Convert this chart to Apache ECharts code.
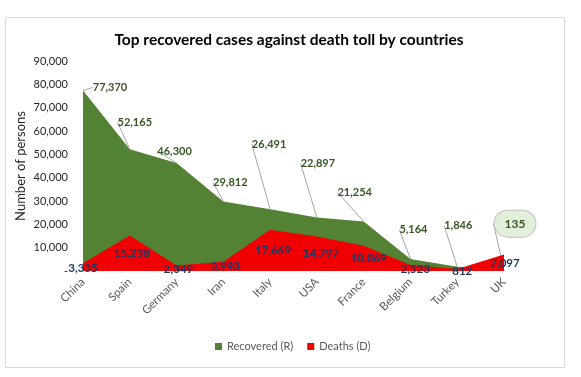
<!DOCTYPE html>
<html lang="en">
<head>
    <meta charset="UTF-8">
    <title>Top recovered cases against death toll by countries</title>
    <style>
        html, body { margin: 0; padding: 0; background: #fff; }
    </style>
</head>
<body>

<div id="main" style="width:581px; height:377px;"></div>

<script src="https://cdn.jsdelivr.net/npm/echarts@6/dist/echarts.min.js"></script>
<script>
    // data
    var countries = ['China', 'Spain', 'Germany', 'Iran', 'Italy', 'USA', 'France', 'Belgium', 'Turkey', 'UK'];
    var recovered = [77370, 52165, 46300, 29812, 26491, 22897, 21254, 5164, 1846, 135];
    var deaths = [3335, 15238, 2349, 3993, 17669, 14797, 10869, 2523, 812, 7097];

    // where the data labels sit, relative to their point (layout only)
    var recLabelShift = [[27, -3], [5, -27], [-2, -12], [7, -19], [-1, -65], [1, -54], [-9, -29], [3, -29], [1, -41], [11, -47]];
    var deathLabelShift = [[0, 5], [2, 18], [2, 4], [2, 5], [3, 21], [4, 17], [5, 13], [5, 4], [5, 2], [1, 9]];

    var font = 'Lato, "Noto Sans", sans-serif';

    function fmt(v) {
        return v.toString().replace(/\B(?=(\d{3})+(?!\d))/g, ',');
    }

    var recData = recovered.map(function (v, i) {
        var d = { value: v };
        if (i === recovered.length - 1) {
            // the last one is shown in a callout bubble
            d.label = {
                backgroundColor: '#E2EFDA',
                borderColor: '#BFBFBF',
                borderWidth: 1,
                borderRadius: 14,
                padding: [7, 10],
                fontSize: 12
            };
        }
        return d;
    });

    var chart = echarts.init(document.getElementById('main'));
    chart.setOption({
        backgroundColor: '#fff',
        animation: false,
        textStyle: { fontFamily: font },
        title: {
            text: 'Top recovered cases against death toll by countries',
            left: 284,
            textAlign: 'center',
            top: 27,
            textStyle: {
                fontFamily: font,
                fontSize: 15.5,
                fontWeight: 'bold',
                color: '#000'
            }
        },
        graphic: [{
            type: 'rect',
            shape: { x: 5.5, y: 17.5, width: 559, height: 350 },
            style: { fill: 'none', stroke: '#D9D9D9', lineWidth: 1 },
            silent: true
        }],
        legend: {
            bottom: 20,
            left: 210,
            itemWidth: 7,
            itemHeight: 7,
            itemGap: 14,
            icon: 'rect',
            textStyle: { fontFamily: font, fontSize: 11, color: '#595959' },
            data: ['Recovered (R)', 'Deaths (D)']
        },
        grid: {
            left: 83,
            right: 77,
            top: 61,
            bottom: 106,
            containLabel: false
        },
        xAxis: {
            type: 'category',
            boundaryGap: false,
            data: countries,
            axisLine: { show: false },
            axisTick: { show: false },
            axisLabel: {
                rotate: 45,
                margin: 9,
                fontFamily: font,
                fontSize: 11.5,
                color: '#595959'
            }
        },
        yAxis: {
            type: 'value',
            min: 0,
            max: 90000,
            interval: 10000,
            name: 'Number of persons',
            nameLocation: 'middle',
            nameGap: 56,
            nameMoveOverlap: false,
            nameTextStyle: { fontFamily: font, fontSize: 13, color: '#262626' },
            splitLine: { show: false },
            axisLine: { show: false },
            axisTick: { show: false },
            axisLabel: {
                margin: 15,
                fontFamily: font,
                fontSize: 11,
                color: '#262626',
                formatter: function (v) { return v === 0 ? '-' : fmt(v); }
            }
        },
        series: [{
            name: 'Recovered (R)',
            type: 'line',
            data: recData,
            symbol: 'circle',
            symbolSize: 0,
            showSymbol: true,
            lineStyle: { width: 0 },
            itemStyle: { color: '#548235' },
            areaStyle: { color: '#548235', opacity: 1 },
            label: {
                show: true,
                position: 'inside',
                fontFamily: font,
                fontSize: 11,
                fontWeight: 'bold',
                color: '#375623',
                textBorderWidth: 0,
                textBorderColor: 'transparent',
                formatter: function (p) { return fmt(p.value); }
            },
            labelLine: {
                show: true,
                lineStyle: { color: '#A6A6A6', width: 1 }
            },
            labelLayout: function (p) {
                var s = recLabelShift[p.dataIndex];
                return { dx: s[0], dy: s[1] };
            },
            z: 2
        }, {
            name: 'Deaths (D)',
            type: 'line',
            data: deaths,
            symbol: 'circle',
            symbolSize: 0,
            showSymbol: true,
            lineStyle: { width: 0 },
            itemStyle: { color: '#F00000' },
            areaStyle: { color: '#F00000', opacity: 1 },
            label: {
                show: true,
                position: 'inside',
                fontFamily: font,
                fontSize: 11.5,
                fontWeight: 'bold',
                color: '#1F3864',
                textBorderWidth: 0,
                textBorderColor: 'transparent',
                formatter: function (p) { return fmt(p.value); }
            },
            labelLayout: function (p) {
                var s = deathLabelShift[p.dataIndex];
                return { dx: s[0], dy: s[1] };
            },
            z: 3
        }]
    });
</script>
</body>
</html>
